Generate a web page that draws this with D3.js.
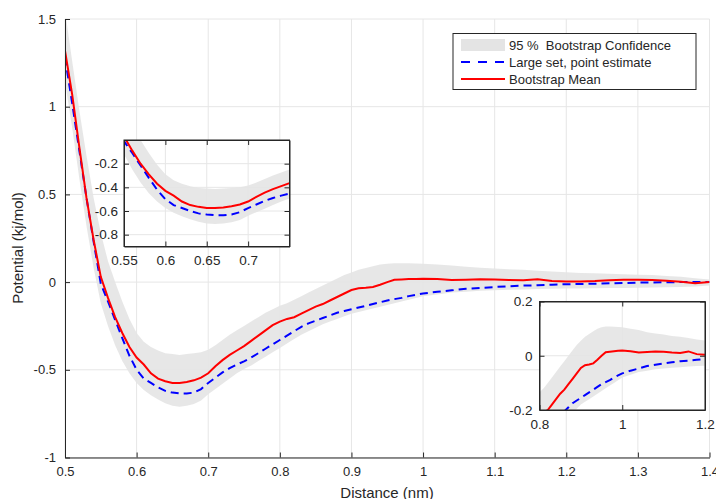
<!DOCTYPE html>
<html>
<head>
<meta charset="utf-8">
<script src="https://cdn.jsdelivr.net/npm/d3@7"></script>
<style>
  body { margin: 0; background: #fff; }
  svg text { font-family: "Liberation Sans", Arial, sans-serif; fill: #262626; }
</style>
</head>
<body>
<div id="chart"></div>
<script>
// distance grid (nm)
var distance = [0.50,0.51,0.52,0.53,0.54,0.55,0.56,0.57,0.58,0.59,
                0.60,0.61,0.62,0.63,0.64,0.65,0.66,0.67,0.68,0.69,
                0.70,0.71,0.72,0.73,0.74,0.75,0.76,0.77,0.78,0.79,
                0.80,0.81,0.82,0.83,0.84,0.85,0.86,0.87,0.88,0.89,
                0.90,0.91,0.92,0.93,0.94,0.95,0.96,0.97,0.98,0.99,
                1.00,1.02,1.04,1.06,1.08,1.10,1.12,1.14,1.16,1.18,
                1.20,1.22,1.24,1.26,1.28,1.30,1.32,1.34,1.36,1.38,1.40];

// bootstrap mean (kj/mol)
var bootMean = [1.32,1.07,0.77,0.48,0.24,0.03,-0.09,-0.20,-0.29,-0.37,
                -0.43,-0.47,-0.52,-0.55,-0.565,-0.575,-0.575,-0.57,-0.56,-0.545,
                -0.52,-0.48,-0.445,-0.415,-0.39,-0.365,-0.335,-0.305,-0.275,-0.245,
                -0.225,-0.21,-0.20,-0.18,-0.16,-0.14,-0.125,-0.105,-0.085,-0.065,
                -0.045,-0.035,-0.032,-0.028,-0.015,0.0,0.013,0.015,0.017,0.018,
                0.019,0.017,0.012,0.014,0.016,0.015,0.012,0.010,0.016,0.006,
                0.004,0.004,0.006,0.010,0.014,0.014,0.012,0.008,0.002,-0.006,0.0];

// large set, point estimate
var pointEst = [1.28,1.02,0.75,0.48,0.23,-0.01,-0.11,-0.215,-0.32,-0.42,
                -0.50,-0.55,-0.575,-0.60,-0.62,-0.63,-0.635,-0.635,-0.63,-0.61,
                -0.575,-0.545,-0.515,-0.49,-0.47,-0.452,-0.43,-0.405,-0.38,-0.355,
                -0.33,-0.305,-0.28,-0.255,-0.235,-0.22,-0.205,-0.19,-0.175,-0.165,
                -0.155,-0.145,-0.135,-0.125,-0.115,-0.105,-0.097,-0.09,-0.08,-0.072,
                -0.065,-0.055,-0.047,-0.038,-0.033,-0.028,-0.024,-0.020,-0.018,-0.015,
                -0.012,-0.011,-0.009,-0.007,-0.005,-0.003,-0.002,-0.001,0.0,0.0,0.0];

// 95 % bootstrap confidence band
var ciUpper = [1.55,1.26,0.98,0.72,0.48,0.28,0.12,0.0,-0.11,-0.21,
               -0.29,-0.34,-0.37,-0.39,-0.405,-0.41,-0.415,-0.41,-0.405,-0.40,
               -0.385,-0.36,-0.33,-0.30,-0.275,-0.25,-0.225,-0.20,-0.175,-0.155,
               -0.135,-0.12,-0.10,-0.08,-0.06,-0.04,-0.02,0.0,0.02,0.04,
               0.055,0.07,0.08,0.09,0.10,0.105,0.108,0.108,0.107,0.106,
               0.105,0.10,0.095,0.087,0.082,0.078,0.073,0.070,0.065,0.060,
               0.056,0.052,0.050,0.048,0.045,0.042,0.040,0.035,0.030,0.022,0.015];
var ciLower = [1.14,0.88,0.59,0.32,0.08,-0.12,-0.25,-0.36,-0.45,-0.52,
               -0.575,-0.615,-0.645,-0.67,-0.69,-0.705,-0.71,-0.705,-0.695,-0.675,
               -0.64,-0.61,-0.58,-0.55,-0.52,-0.495,-0.475,-0.45,-0.425,-0.40,
               -0.375,-0.35,-0.325,-0.30,-0.28,-0.26,-0.24,-0.225,-0.21,-0.195,
               -0.18,-0.17,-0.16,-0.15,-0.14,-0.13,-0.12,-0.11,-0.10,-0.09,
               -0.08,-0.07,-0.06,-0.055,-0.05,-0.047,-0.044,-0.042,-0.040,-0.038,
               -0.037,-0.036,-0.035,-0.034,-0.033,-0.032,-0.031,-0.030,-0.028,-0.025,-0.020];

var mainXTicks = [0.5,0.6,0.7,0.8,0.9,1,1.1,1.2,1.3,1.4];
var mainYTicks = [-1,-0.5,0,0.5,1,1.5];
var inset1XTicks = [0.55,0.6,0.65,0.7];
var inset1YTicks = [-0.8,-0.6,-0.4,-0.2];
var inset2XTicks = [0.8,1,1.2];
var inset2YTicks = [-0.2,0,0.2];

var legendLabels = ["95 %  Bootstrap Confidence", "Large set, point estimate", "Bootstrap Mean"];

var rows = distance.map(function(d, i) {
    return {x: d, mean: bootMean[i], est: pointEst[i], lo: ciLower[i], hi: ciUpper[i]};
});

var W = 716, H = 499;
var bandColor = "#e4e4e4", gridColor = "#e6e6e6", axisColor = "#262626";

var svg = d3.select("#chart").append("svg")
    .attr("width", W).attr("height", H);

var clipId = 0;

// draws one set of axes (main plot or inset)
function drawPanel(opt) {
    var x = d3.scaleLinear().domain(opt.xDomain).range([opt.left, opt.right]);
    var y = d3.scaleLinear().domain(opt.yDomain).range([opt.bottom, opt.top]);
    var g = svg.append("g");
    var id = "clip" + (clipId++);

    g.append("clipPath").attr("id", id).append("rect")
        .attr("x", opt.left).attr("y", opt.top)
        .attr("width", opt.right - opt.left).attr("height", opt.bottom - opt.top);

    if (opt.box) {
        g.append("rect")
            .attr("x", opt.left).attr("y", opt.top)
            .attr("width", opt.right - opt.left).attr("height", opt.bottom - opt.top)
            .attr("fill", "#fff");
    }

    // grid
    g.append("g").selectAll("line").data(opt.xTicks).enter().append("line")
        .attr("x1", function(d) { return x(d); }).attr("x2", function(d) { return x(d); })
        .attr("y1", opt.top).attr("y2", opt.bottom)
        .attr("stroke", gridColor).attr("stroke-width", 1);
    g.append("g").selectAll("line").data(opt.yTicks).enter().append("line")
        .attr("y1", function(d) { return y(d); }).attr("y2", function(d) { return y(d); })
        .attr("x1", opt.left).attr("x2", opt.right)
        .attr("stroke", gridColor).attr("stroke-width", 1);

    var plot = g.append("g").attr("clip-path", "url(#" + id + ")");

    plot.append("path").datum(rows)
        .attr("fill", bandColor).attr("fill-opacity", 0.9)
        .attr("d", d3.area()
            .x(function(d) { return x(d.x); })
            .y0(function(d) { return y(d.lo); })
            .y1(function(d) { return y(d.hi); }));

    plot.append("path").datum(rows)
        .attr("fill", "none").attr("stroke", "#0000ff").attr("stroke-width", 2)
        .attr("stroke-dasharray", "8,5")
        .attr("d", d3.line().x(function(d) { return x(d.x); }).y(function(d) { return y(d.est); }));

    plot.append("path").datum(rows)
        .attr("fill", "none").attr("stroke", "#ff0000").attr("stroke-width", 2)
        .attr("d", d3.line().x(function(d) { return x(d.x); }).y(function(d) { return y(d.mean); }));

    // axes, ticks point inward
    var fmt = function(d) { return String(+d.toFixed(2)); };
    var xAxis = d3.axisBottom(x).tickValues(opt.xTicks).tickSizeInner(-5).tickSizeOuter(0)
        .tickPadding(opt.xPad).tickFormat(fmt);
    var yAxis = d3.axisLeft(y).tickValues(opt.yTicks).tickSizeInner(-5).tickSizeOuter(0)
        .tickPadding(opt.yPad).tickFormat(fmt);

    g.append("g").attr("transform", "translate(0," + opt.bottom + ")").call(xAxis);
    g.append("g").attr("transform", "translate(" + opt.left + ",0)").call(yAxis);

    if (opt.box) {
        g.append("g").attr("transform", "translate(0," + opt.top + ")")
            .call(d3.axisTop(x).tickValues(opt.xTicks).tickSizeInner(-5).tickSizeOuter(0).tickFormat(""));
        g.append("g").attr("transform", "translate(" + opt.right + ",0)")
            .call(d3.axisRight(y).tickValues(opt.yTicks).tickSizeInner(-5).tickSizeOuter(0).tickFormat(""));
    }

    g.selectAll(".domain").attr("stroke", axisColor).attr("stroke-width", 1);
    g.selectAll(".tick line").attr("stroke", axisColor);
    g.selectAll(".tick text").attr("font-size", opt.fontSize + "px")
        .attr("font-family", "'Liberation Sans', Arial, sans-serif").attr("fill", axisColor);

    if (opt.box) {
        g.append("rect")
            .attr("x", opt.left).attr("y", opt.top)
            .attr("width", opt.right - opt.left).attr("height", opt.bottom - opt.top)
            .attr("fill", "none").attr("stroke", axisColor).attr("stroke-width", 1);
    }
    return {x: x, y: y};
}

// main plot
drawPanel({
    left: 65, right: 709.5, top: 19, bottom: 457.5,
    xDomain: [0.5, 1.4], yDomain: [-1, 1.5],
    xTicks: mainXTicks, yTicks: mainYTicks,
    xPad: 9, yPad: 9, fontSize: 13, box: false
});

// axis titles
svg.append("text")
    .attr("x", 387).attr("y", 498)
    .attr("text-anchor", "middle").attr("font-size", "15px")
    .text("Distance (nm)");
svg.append("text")
    .attr("transform", "translate(23,248) rotate(-90)")
    .attr("text-anchor", "middle").attr("font-size", "15px")
    .text("Potential (kj/mol)");

// inset around the minimum
drawPanel({
    left: 124, right: 289.5, top: 140, bottom: 246.5,
    xDomain: [0.55, 0.75], yDomain: [-0.9, 0],
    xTicks: inset1XTicks, yTicks: inset1YTicks,
    xPad: 9, yPad: 6, fontSize: 13.5, box: true
});

// inset around the tail
drawPanel({
    left: 539.5, right: 705, top: 301.5, bottom: 410,
    xDomain: [0.8, 1.2], yDomain: [-0.2, 0.2],
    xTicks: inset2XTicks, yTicks: inset2YTicks,
    xPad: 9, yPad: 7, fontSize: 13.5, box: true
});

// legend
var lg = svg.append("g");
lg.append("rect")
    .attr("x", 453).attr("y", 33.5).attr("width", 243).attr("height", 56)
    .attr("fill", "#fff").attr("stroke", axisColor).attr("stroke-width", 1);

var rowY = [45, 62, 79];
lg.append("rect")
    .attr("x", 461).attr("y", rowY[0] - 6).attr("width", 44).attr("height", 12)
    .attr("fill", bandColor);
lg.append("line")
    .attr("x1", 461).attr("x2", 505).attr("y1", rowY[1]).attr("y2", rowY[1])
    .attr("stroke", "#0000ff").attr("stroke-width", 2).attr("stroke-dasharray", "9,8");
lg.append("line")
    .attr("x1", 461).attr("x2", 505).attr("y1", rowY[2]).attr("y2", rowY[2])
    .attr("stroke", "#ff0000").attr("stroke-width", 2);

lg.selectAll("text.lbl").data(legendLabels).enter().append("text")
    .attr("class", "lbl")
    .attr("x", 509).attr("y", function(d, i) { return rowY[i]; })
    .attr("dy", "0.35em").attr("font-size", "13px").attr("fill", "#000")
    .style("white-space", "pre").attr("xml:space", "preserve")
    .text(function(d) { return d; });
</script>
</body>
</html>
